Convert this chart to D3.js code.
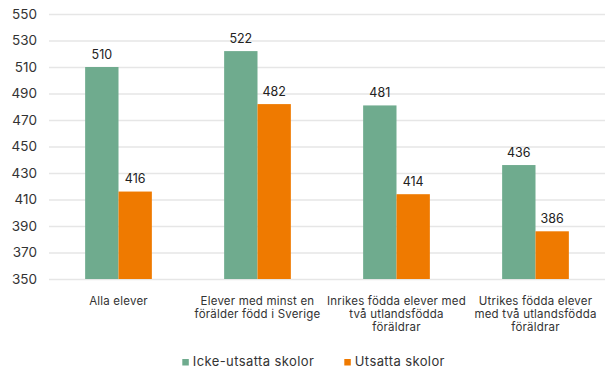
<!DOCTYPE html>
<html>
<head>
<meta charset="utf-8">
<script src="https://cdn.jsdelivr.net/npm/d3@7"></script>
<style>
  html, body { margin: 0; padding: 0; background: #fff; }
  svg { display: block; font-family: Inter, "Open Sans", sans-serif; }
</style>
</head>
<body>
<svg id="chart" width="609" height="371"></svg>
<script>
// Categories (multi-line labels) and the two series
const categories = [
  ["Alla elever"],
  ["Elever med minst en", "förälder född i Sverige"],
  ["Inrikes födda elever med", "två utlandsfödda", "föräldrar"],
  ["Utrikes födda elever", "med två utlandsfödda", "föräldrar"]
];
const seriesNames = ["Icke-utsatta skolor", "Utsatta skolor"];
const ickeUtsatta = [510, 522, 481, 436];
const utsatta = [416, 482, 414, 386];
const yTicks = [350, 370, 390, 410, 430, 450, 470, 490, 510, 530, 550];
const colors = ["#6fab8e", "#ef7a00"];

const svg = d3.select("#chart");
const margin = { left: 49, right: 4, top: 14, bottom: 92 };
const W = 609, H = 371;

const x0 = d3.scaleBand()
  .domain(d3.range(categories.length))
  .range([margin.left, W - margin.right])
  .paddingInner(0.52)
  .paddingOuter(0.26);

const x1 = d3.scaleBand()
  .domain(d3.range(seriesNames.length))
  .range([0, x0.bandwidth()]);

const y = d3.scaleLinear()
  .domain([350, 550])
  .range([H - margin.bottom, margin.top]);

// Gridlines and tick labels
const yAxis = d3.axisLeft(y)
  .tickValues(yTicks)
  .tickSize(-(W - margin.right - margin.left))
  .tickPadding(12);

const gy = svg.append("g")
  .attr("transform", `translate(${margin.left},0)`)
  .call(yAxis);
gy.select(".domain").remove();
gy.selectAll(".tick line").attr("stroke", "#e6e6e6").attr("stroke-width", 1.3);
gy.selectAll(".tick text")
  .attr("fill", "#333")
  .attr("font-size", 13.5)
  .attr("font-family", "Inter, sans-serif");

const seriesData = [ickeUtsatta, utsatta];

// Bars
const groups = svg.append("g").selectAll("g")
  .data(categories.map((c, i) => i))
  .join("g")
  .attr("transform", i => `translate(${x0(i)},0)`);

groups.selectAll("rect")
  .data(i => seriesData.map((s, k) => ({ k, v: s[i] })))
  .join("rect")
  .attr("x", d => x1(d.k))
  .attr("width", x1.bandwidth())
  .attr("y", d => y(d.v))
  .attr("height", d => y(350) - y(d.v))
  .attr("fill", d => colors[d.k]);

// Value labels
groups.selectAll("text.val")
  .data(i => seriesData.map((s, k) => ({ k, v: s[i] })))
  .join("text")
  .attr("class", "val")
  .attr("x", d => x1(d.k) + x1.bandwidth() / 2)
  .attr("y", d => y(d.v) - 8.5)
  .attr("text-anchor", "middle")
  .attr("font-size", 12.5)
  .attr("fill", "#222")
  .text(d => d.v);

// Category labels
const catG = svg.append("g").selectAll("text")
  .data(categories)
  .join("text")
  .attr("text-anchor", "middle")
  .attr("font-size", 11.5)
  .attr("letter-spacing", 0.2)
  .attr("fill", "#333")
  .attr("x", (d, i) => x0(i) + x0.bandwidth() / 2)
  .attr("y", 304.5);

catG.selectAll("tspan")
  .data(d => d)
  .join("tspan")
  .attr("x", function () { return d3.select(this.parentNode).attr("x"); })
  .attr("dy", (d, j) => j === 0 ? 0 : 13.4)
  .text(d => d);

// Legend
const legendX = [182.3, 344.3];
const legend = svg.append("g").selectAll("g")
  .data(seriesNames)
  .join("g")
  .attr("transform", (d, i) => `translate(${legendX[i]},359)`);
legend.append("rect")
  .attr("width", 6.5).attr("height", 6.5)
  .attr("fill", (d, i) => colors[i]);
legend.append("text")
  .attr("x", 10.5)
  .attr("y", 7)
  .attr("font-size", 13)
  .attr("letter-spacing", 0.4)
  .attr("fill", "#333")
  .text(d => d);
</script>
</body>
</html>
